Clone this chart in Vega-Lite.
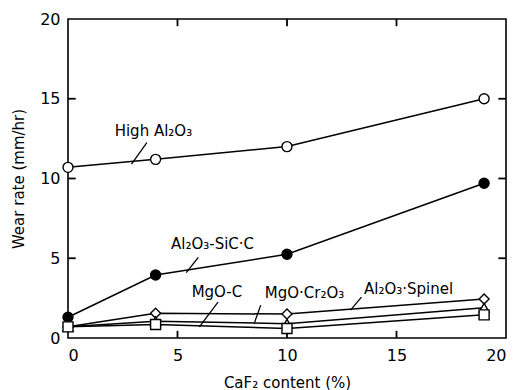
{
  "$schema": "https://vega.github.io/schema/vega-lite/v6.json",
  "width": 438,
  "height": 319,
  "autosize": {"type": "none"},
  "padding": {"left": 68, "top": 19, "right": 9, "bottom": 52},
  "background": "white",
  "config": {
    "view": {"stroke": "black", "strokeWidth": 1.6},
    "font": "DejaVu Sans",
    "axis": {"grid": false, "domain": false, "ticks": false, "labelColor": "black", "titleColor": "black", "labelFont": "DejaVu Sans", "titleFont": "DejaVu Sans", "titleFontWeight": "normal"}
  },
  "datasets": {
    "pts": [
      {"series": "High Al2O3", "x": 0, "y": 10.7},
      {"series": "High Al2O3", "x": 4, "y": 11.2},
      {"series": "High Al2O3", "x": 10, "y": 12.0},
      {"series": "High Al2O3", "x": 19, "y": 15.0},
      {"series": "Al2O3-SiC-C", "x": 0, "y": 1.3},
      {"series": "Al2O3-SiC-C", "x": 4, "y": 3.95},
      {"series": "Al2O3-SiC-C", "x": 10, "y": 5.25},
      {"series": "Al2O3-SiC-C", "x": 19, "y": 9.7},
      {"series": "Al2O3-Spinel", "x": 0, "y": 0.7},
      {"series": "Al2O3-Spinel", "x": 4, "y": 1.55},
      {"series": "Al2O3-Spinel", "x": 10, "y": 1.5},
      {"series": "Al2O3-Spinel", "x": 19, "y": 2.45},
      {"series": "MgO-Cr2O3", "x": 0, "y": 0.7},
      {"series": "MgO-Cr2O3", "x": 4, "y": 1.05},
      {"series": "MgO-Cr2O3", "x": 10, "y": 0.9},
      {"series": "MgO-Cr2O3", "x": 19, "y": 1.9},
      {"series": "MgO-C", "x": 0, "y": 0.7},
      {"series": "MgO-C", "x": 4, "y": 0.85},
      {"series": "MgO-C", "x": 10, "y": 0.6},
      {"series": "MgO-C", "x": 19, "y": 1.45}
    ],
    "labels": [
      {"text": "High Al₂O₃", "x": 3.9, "y": 13.0},
      {"text": "Al₂O₃-SiC·C", "x": 6.6, "y": 5.9},
      {"text": "MgO-C", "x": 6.8, "y": 2.9},
      {"text": "MgO·Cr₂O₃", "x": 10.8, "y": 2.8},
      {"text": "Al₂O₃·Spinel", "x": 15.55, "y": 3.1}
    ],
    "leaders": [
      {"x": 3.6, "y": 12.25, "x2": 2.9, "y2": 10.9},
      {"x": 5.95, "y": 5.06, "x2": 5.4, "y2": 4.1},
      {"x": 6.85, "y": 2.25, "x2": 6.0, "y2": 0.7},
      {"x": 8.8, "y": 2.06, "x2": 8.5, "y2": 0.9},
      {"x": 13.4, "y": 2.56, "x2": 12.9, "y2": 1.75}
    ],
    "ticks": [
      {"x": 5, "y": 0, "x2": 5, "y2": 0.45},
      {"x": 10, "y": 0, "x2": 10, "y2": 0.45},
      {"x": 15, "y": 0, "x2": 15, "y2": 0.45},
      {"x": 5, "y": 20, "x2": 5, "y2": 19.55},
      {"x": 10, "y": 20, "x2": 10, "y2": 19.55},
      {"x": 15, "y": 20, "x2": 15, "y2": 19.55},
      {"x": 0, "y": 5, "x2": 0.35, "y2": 5},
      {"x": 0, "y": 10, "x2": 0.35, "y2": 10},
      {"x": 0, "y": 15, "x2": 0.35, "y2": 15},
      {"x": 20, "y": 5, "x2": 19.65, "y2": 5},
      {"x": 20, "y": 10, "x2": 19.65, "y2": 10},
      {"x": 20, "y": 15, "x2": 19.65, "y2": 15}
    ]
  },
  "layer": [
    {
      "data": {"name": "pts"},
      "mark": {"type": "line", "color": "black", "strokeWidth": 1.5},
      "encoding": {
        "x": {"field": "x", "type": "quantitative", "scale": {"domain": [0, 20]},
              "axis": {"values": [0, 5, 10, 15, 20], "labelPadding": 9, "labelFontSize": 16, "title": "CaF₂ content (%)", "titleFontSize": 15, "titlePadding": 12}},
        "y": {"field": "y", "type": "quantitative", "scale": {"domain": [0, 20]},
              "axis": {"values": [0, 5, 10, 15, 20], "labelPadding": 8, "labelFontSize": 16, "title": "Wear rate (mm/hr)", "titleFontSize": 15, "titlePadding": 13}},
        "detail": {"field": "series"}
      }
    },
    {
      "data": {"name": "ticks"},
      "mark": {"type": "rule", "color": "black", "strokeWidth": 1.8},
      "encoding": {
        "x": {"field": "x", "type": "quantitative"},
        "y": {"field": "y", "type": "quantitative"},
        "x2": {"field": "x2"},
        "y2": {"field": "y2"}
      }
    },
    {
      "data": {"name": "pts"},
      "mark": {"type": "point", "filled": true, "stroke": "black", "strokeWidth": 1.4, "opacity": 1},
      "encoding": {
        "x": {"field": "x", "type": "quantitative"},
        "y": {"field": "y", "type": "quantitative"},
        "shape": {"field": "series", "type": "nominal", "legend": null,
                  "scale": {"domain": ["High Al2O3", "Al2O3-SiC-C", "Al2O3-Spinel", "MgO-Cr2O3", "MgO-C"], "range": ["circle", "circle", "diamond", "triangle-up", "square"]}},
        "fill": {"field": "series", "type": "nominal", "legend": null,
                 "scale": {"domain": ["High Al2O3", "Al2O3-SiC-C", "Al2O3-Spinel", "MgO-Cr2O3", "MgO-C"], "range": ["white", "black", "white", "white", "white"]}},
        "size": {"value": 100}
      }
    },
    {
      "data": {"name": "leaders"},
      "mark": {"type": "rule", "color": "black", "strokeWidth": 1.3},
      "encoding": {
        "x": {"field": "x", "type": "quantitative"},
        "y": {"field": "y", "type": "quantitative"},
        "x2": {"field": "x2"},
        "y2": {"field": "y2"}
      }
    },
    {
      "data": {"name": "labels"},
      "mark": {"type": "text", "fontSize": 15, "color": "black", "align": "center", "baseline": "middle"},
      "encoding": {
        "x": {"field": "x", "type": "quantitative"},
        "y": {"field": "y", "type": "quantitative"},
        "text": {"field": "text"}
      }
    }
  ]
}
